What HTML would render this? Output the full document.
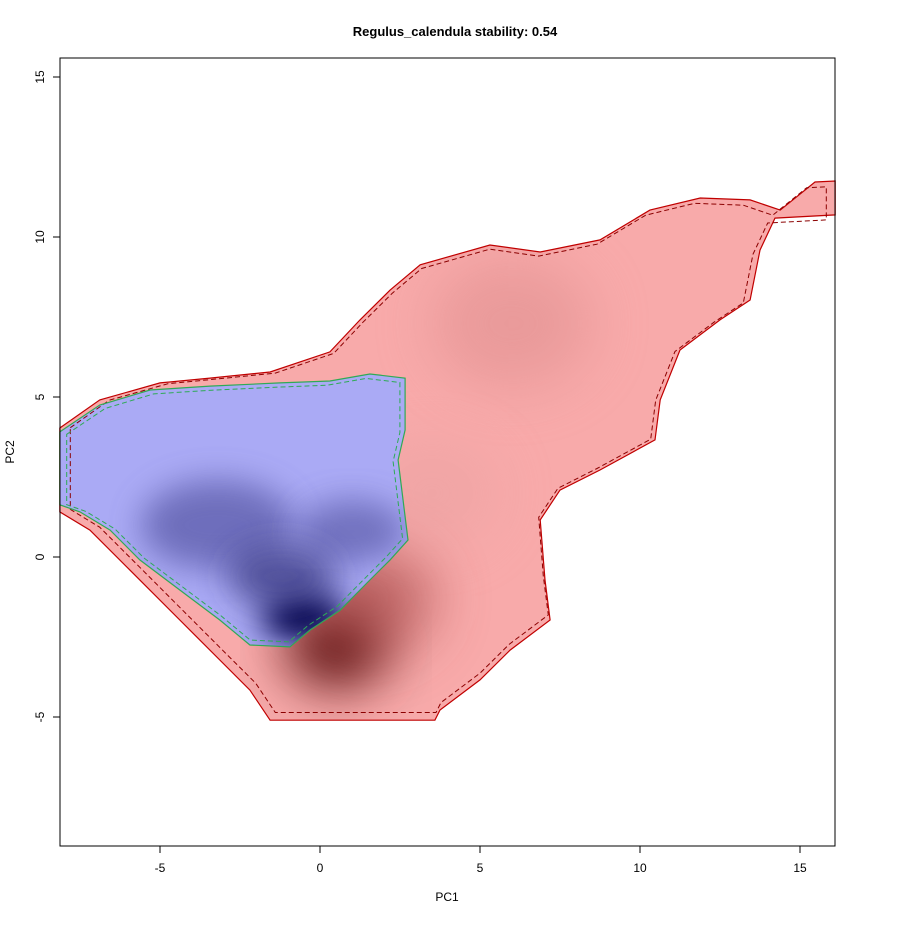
<!DOCTYPE html>
<html><head><meta charset="utf-8"><style>
body{margin:0;background:#fff;}
svg text{font-family:"Liberation Sans",Arial,sans-serif;font-size:12px;fill:#000;}
</style></head><body>
<svg id="chart" width="920" height="920" xmlns="http://www.w3.org/2000/svg">
<defs>
<filter id="blur" x="-50%" y="-50%" width="200%" height="200%"><feGaussianBlur stdDeviation="28"/></filter>
<filter id="blur2" x="-50%" y="-50%" width="200%" height="200%"><feGaussianBlur stdDeviation="16"/></filter>
<clipPath id="clipRed"><polygon id="clipRedPoly"/></clipPath>
<clipPath id="clipBlue"><polygon id="clipBluePoly"/></clipPath>
<clipPath id="clipInner"><rect x="64" y="59" width="769" height="786"/></clipPath>
</defs>
<text x="455" y="36" text-anchor="middle" font-weight="bold" style="font-size:13px">Regulus_calendula stability: 0.54</text>
<g id="layers"></g>
<rect x="60" y="58" width="775" height="788" fill="none" stroke="#000" stroke-width="1"/>
<g id="axes"></g>
<text x="447" y="901" text-anchor="middle">PC1</text>
<text transform="translate(14,452) rotate(-90)" text-anchor="middle">PC2</text>
</svg>
<script>
const xTicks=[-5,0,5,10,15];
const yTicks=[-5,0,5,10,15];
const redX=[-8.13,-6.88,-5,-3.44,-1.56,0.31,1.25,2.19,3.13,5.31,6.88,8.75,10.31,11.88,13.44,14.38,15.47,16.1,16.1,14.22,13.75,13.44,12.5,11.25,10.63,10.47,8.75,7.5,6.88,7.03,7.19,5.94,5,3.75,3.59,-1.56,-2.19,-3.13,-4.38,-5.94,-7.19,-8.13];
const redY=[4.03,4.91,5.44,5.59,5.78,6.41,7.41,8.34,9.13,9.75,9.53,9.91,10.84,11.22,11.16,10.84,11.72,11.75,10.69,10.59,9.59,8.03,7.41,6.47,4.91,3.66,2.72,2.09,1.16,-0.72,-1.97,-2.91,-3.84,-4.78,-5.1,-5.1,-4.16,-3.22,-1.97,-0.41,0.84,1.41];
const blueX=[-8.13,-6.88,-5.31,-3.44,-1.25,0.31,1.56,2.66,2.66,2.44,2.75,2.19,1.56,0.63,-0.31,-0.94,-2.19,-3.13,-4.38,-5.63,-6.56,-7.5,-8.13];
const blueY=[3.91,4.75,5.22,5.34,5.44,5.5,5.72,5.59,3.97,3.03,0.53,-0.09,-0.72,-1.66,-2.28,-2.81,-2.75,-1.97,-1.03,-0.09,0.84,1.41,1.63];
const redPeaksX=[0.5,1.4,6,3.5];
const redPeaksY=[-2.8,-1.3,7.3,2];
const redPeaksR=[1.5,2.2,2.5,2];
const redPeaksC=["#4a0000","#a04040","#e09090","#e8a0a0"];
const redPeaksO=[1,0.6,0.6,0.5];
const bluePeaksX=[-0.5,-3.2,1,-1.2];
const bluePeaksY=[-1.9,1,0.8,-0.6];
const bluePeaksR=[1.1,2,1.4,1.4];
const bluePeaksC=["#000048","#5a5aa8","#5a5aa8","#30307a"];
const bluePeaksO=[1,0.75,0.7,0.7];

const X=v=>320+v*32, Y=v=>557-v*32;
const NS="http://www.w3.org/2000/svg";
const layers=document.getElementById('layers'), axes=document.getElementById('axes');
function mk(t,a,p){const e=document.createElementNS(NS,t);for(const k in a)e.setAttribute(k,a[k]);(p||layers).appendChild(e);return e;}
function pts(xs,ys,s){let cx=0,cy=0;xs.forEach((x,i)=>{cx+=X(x);cy+=Y(ys[i]);});cx/=xs.length;cy/=xs.length;
 return xs.map((x,i)=>{const px=X(x),py=Y(ys[i]);return (cx+(px-cx)*s).toFixed(1)+','+(cy+(py-cy)*s).toFixed(1);}).join(' ');}
document.getElementById('clipRedPoly').setAttribute('points',pts(redX,redY,1));
document.getElementById('clipBluePoly').setAttribute('points',pts(blueX,blueY,1));
let r=mk('polygon',{points:pts(redX,redY,1),fill:'#f8aaaa'});

let gr=mk('g',{'clip-path':'url(#clipRed)'});
redPeaksX.forEach((x,i)=>{const e=mk('ellipse',{cx:X(x),cy:Y(redPeaksY[i]),rx:redPeaksR[i]*32,ry:redPeaksR[i]*32*0.8,fill:redPeaksC[i],opacity:redPeaksO[i],filter:'url(#blur)'},gr);
 });
let b=mk('polygon',{points:pts(blueX,blueY,1),fill:'#aaaaf5'});

let gb=mk('g',{'clip-path':'url(#clipBlue)'});
bluePeaksX.forEach((x,i)=>{const e=mk('ellipse',{cx:X(x),cy:Y(bluePeaksY[i]),rx:bluePeaksR[i]*32*1.2,ry:bluePeaksR[i]*32*0.7,fill:bluePeaksC[i],opacity:bluePeaksO[i],filter:'url(#blur2)'},gb);
 });
let l1=mk('polygon',{points:pts(redX,redY,1),fill:'none',stroke:'#c00000','stroke-width':1.2});

let gi=mk('g',{'clip-path':'url(#clipInner)'});
let l2=mk('polygon',{points:pts(redX,redY,0.975),fill:'none',stroke:'#8b0000','stroke-width':1,'stroke-dasharray':'5,3'},gi);

let l3=mk('polygon',{points:pts(blueX,blueY,1),fill:'none',stroke:'#2eaa55','stroke-width':1.2});

let l4=mk('polygon',{points:pts(blueX,blueY,0.965),fill:'none',stroke:'#2eaa55','stroke-width':1,'stroke-dasharray':'5,3'},gi);

let wb=mk('rect',{x:56,y:Y(-5.1)+1,width:783,height:5,fill:'#fff'});

xTicks.forEach(t=>{const l=mk('line',{x1:X(t),x2:X(t),y1:846,y2:853,stroke:'#000'},axes);
 
 const tx=mk('text',{x:X(t),y:872,'text-anchor':'middle'},axes);tx.textContent=t;
 });
yTicks.forEach(t=>{const l=mk('line',{x1:53,x2:60,y1:Y(t),y2:Y(t),stroke:'#000'},axes);
 
 const tx=mk('text',{transform:`translate(44,${Y(t)}) rotate(-90)`,'text-anchor':'middle'},axes);tx.textContent=t;
 });
</script>
</body></html>
